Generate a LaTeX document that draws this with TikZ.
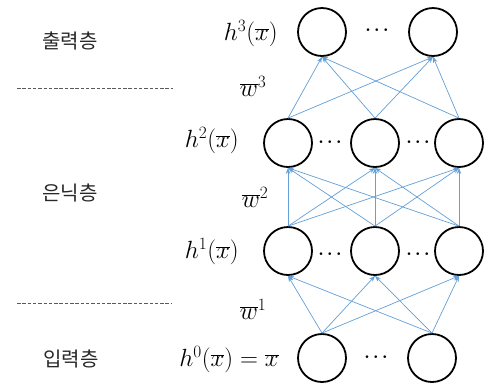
\documentclass[tikz,border=0pt]{standalone}
\usepackage{fontspec}
\newfontfamily\kr{Noto Sans CJK KR}
\usetikzlibrary{arrows.meta}
\definecolor{edgeblue}{RGB}{100,160,215}
\definecolor{dashgray}{RGB}{90,90,90}
\definecolor{krgray}{RGB}{40,40,40}
\begin{document}
\begin{tikzpicture}[x=1pt,y=-1pt,
  neuron/.style={circle,draw=black,line width=1.8pt,minimum size=48pt,inner sep=0pt},
  conn/.style={draw=edgeblue,line width=0.7pt,-{Stealth[length=6pt,width=4.5pt]}},
  lbl/.style={font=\fontsize{24}{28}\selectfont,inner sep=0pt},
  krl/.style={font=\kr\fontsize{20}{24}\selectfont,text=krgray,inner sep=0pt},
  dots/.style={font=\fontsize{17}{20}\selectfont\boldmath,inner sep=0pt},
  sep/.style={draw=dashgray,line width=0.8pt,dash pattern=on 3.5pt off 1.8pt}]
\useasboundingbox[fill=white] (0,0) rectangle (486,384);
% neurons
\node[neuron] (o1) at (322,32) {};
\node[neuron] (o2) at (433,32) {};
\node[neuron] (a1) at (288,143) {};
\node[neuron] (a2) at (375,143) {};
\node[neuron] (a3) at (459,143) {};
\node[neuron] (b1) at (288,251) {};
\node[neuron] (b2) at (375,251) {};
\node[neuron] (b3) at (459,251) {};
\node[neuron] (i1) at (322,358) {};
\node[neuron] (i2) at (432,358) {};
% dots
\node[dots] (do) at (377,30) {$\cdots$};
\node[dots] (da1) at (330,142) {$\cdots$};
\node[dots] (da2) at (418,142) {$\cdots$};
\node[dots] (db1) at (330,254) {$\cdots$};
\node[dots] (db2) at (418,254) {$\cdots$};
\node[dots] (di) at (376,357) {$\cdots$};
% connections
\foreach \s in {a1,a2,a3}{\foreach \t in {o1,o2}{\path[conn] (\s.north) -- (\t.south);}}
\foreach \s in {b1,b2,b3}{\foreach \t in {a1,a2,a3}{\path[conn] (\s.north) -- (\t.south);}}
\foreach \s in {i1,i2}{\foreach \t in {b1,b2,b3}{\path[conn] (\s.north) -- (\t.south);}}
% labels
\node[lbl,anchor=east] (h3) at (278,34) {$h^3(\overline{x})$};
\node[lbl,anchor=east] (h2) at (239,141) {$h^2(\overline{x})$};
\node[lbl,anchor=east] (h1) at (239,252) {$h^1(\overline{x})$};
\node[lbl,anchor=east] (h0) at (279,360) {$h^0(\overline{x}) = \overline{x}$};
\node[lbl] (w3) at (253,86) {$\overline{w}^3$};
\node[lbl] (w2) at (255,197) {$\overline{w}^2$};
\node[lbl] (w1) at (253,309) {$\overline{w}^1$};
% layer names
\node[krl] (k3) at (70,41) {출력층};
\node[krl] (k2) at (70,193) {은닉층};
\node[krl] (k1) at (71,359) {입력층};
% separators
\coordinate (s1a) at (17,88); \coordinate (s1b) at (173,88);
\coordinate (s2a) at (17,303); \coordinate (s2b) at (172,303);
\draw[sep] (s1a) -- (s1b);
\draw[sep] (s2a) -- (s2b);
\end{tikzpicture}
\end{document}
